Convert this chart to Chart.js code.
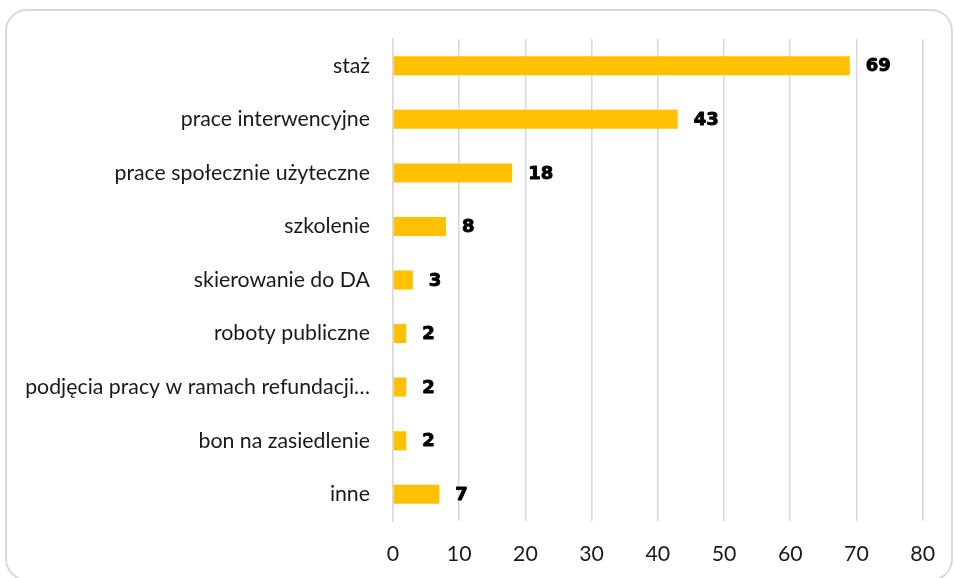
<!DOCTYPE html>
<html>
<head>
<meta charset="utf-8">
<script src="https://cdn.jsdelivr.net/npm/chart.js@4.4.1/dist/chart.umd.min.js"></script>
<style>
  html, body { margin: 0; padding: 0; background: #ffffff; overflow: hidden; }
  #wrap { position: relative; width: 955px; height: 578px; overflow: hidden; }
  #card { position: absolute; left: 5px; top: 9px; width: 948px; height: 572px;
          border: 2px solid #d9d9d9; border-radius: 22px; box-sizing: border-box; }
  canvas { position: absolute; left: 0; top: 0; }
</style>
</head>
<body>
<div id="wrap">
  <div id="card"></div>
  <canvas id="c" width="955" height="578"></canvas>
</div>
<script>
const categories = [
  "staż",
  "prace interwencyjne",
  "prace społecznie użyteczne",
  "szkolenie",
  "skierowanie do DA",
  "roboty publiczne",
  "podjęcia pracy w ramach refundacji…",
  "bon na zasiedlenie",
  "inne"
];
const values = [69, 43, 18, 8, 3, 2, 2, 2, 7];
const xTicks = [0, 10, 20, 30, 40, 50, 60, 70, 80];

const valueLabels = {
  id: 'valueLabels',
  afterDatasetsDraw(chart) {
    const ctx = chart.ctx;
    const meta = chart.getDatasetMeta(0);
    ctx.save();
    ctx.font = 'bold 18px "DejaVu Sans"';
    ctx.fillStyle = '#000000';
    ctx.strokeStyle = '#000000';
    ctx.lineWidth = 0.9;
    ctx.lineJoin = 'round';
    ctx.textAlign = 'left';
    ctx.textBaseline = 'middle';
    meta.data.forEach((bar, i) => {
      const t = String(values[i]);
      ctx.fillText(t, bar.x + 16, bar.y + 1);
      ctx.strokeText(t, bar.x + 16, bar.y + 1);
    });
    ctx.restore();
  }
};

new Chart(document.getElementById('c'), {
  type: 'bar',
  data: {
    labels: categories,
    datasets: [{
      data: values,
      backgroundColor: '#FFC000',
      borderWidth: 0,
      categoryPercentage: 1,
      barPercentage: 0.355
    }]
  },
  options: {
    indexAxis: 'y',
    responsive: false,
    animation: false,
    devicePixelRatio: 1,
    layout: { padding: { top: 39, right: 30, bottom: 0, left: 0 } },
    plugins: { legend: { display: false }, tooltip: { enabled: false } },
    scales: {
      x: {
        min: 0, max: 80,
        afterBuildTicks(scale) { scale.ticks = xTicks.map(v => ({ value: v })); },
        afterFit(scale) { scale.height = 57; },
        grid: { color: '#d9d9d9', lineWidth: 1.5, drawTicks: false },
        border: { display: false },
        ticks: { padding: 20, color: '#1a1a1a', font: { family: 'Lato', size: 21.3 } }
      },
      y: {
        afterFit(scale) { scale.width = 393; },
        grid: { display: false, drawTicks: false },
        border: { display: true, color: '#d9d9d9', width: 1.5 },
        ticks: { padding: 23, color: '#1a1a1a', font: { family: 'Lato', size: 21.3 } }
      }
    }
  },
  plugins: [valueLabels]
});
</script>
</body>
</html>
